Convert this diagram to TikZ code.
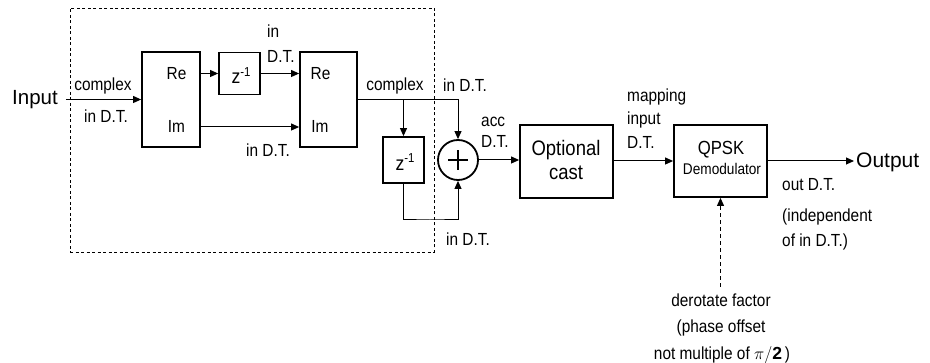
\documentclass[tikz,border=0pt]{standalone}
\usepackage{fontspec}
\setmainfont{Liberation Sans}
\newfontfamily\cnd[FakeStretch=0.88]{Liberation Sans}
\usetikzlibrary{arrows.meta}
\tikzset{
  blk/.style={draw, line width=1.8pt, inner sep=0pt},
  lbl/.style={font=\cnd\fontsize{17.5}{20}\selectfont, inner sep=0pt},
  big/.style={font=\fontsize{20.5}{24}\selectfont, inner sep=0pt},
  ln/.style={line width=1pt},
  arr/.style={line width=1pt, -{Triangle[length=8pt,width=7pt]}},
  grpbox/.style={draw, line width=0.8pt, dash pattern=on 3pt off 2.5pt, inner sep=0pt}
}
\newcommand{\zinv}{\cnd\fontsize{20}{22}\selectfont z\raisebox{7.5pt}{\fontsize{13}{14}\selectfont -1}}
\begin{document}
\begin{tikzpicture}[x=1pt,y=-1pt]
\useasboundingbox (0,0) rectangle (930,363);

% dashed group
\node[grpbox, minimum width=364pt, minimum height=244pt] (grp) at (252,130) {};

% blocks
\node[blk, minimum width=58pt, minimum height=95pt] (b1) at (171,99.5) {};
\node[blk, minimum width=57pt, minimum height=95pt] (b2) at (328.5,99.5) {};
\node[blk, minimum width=41pt, minimum height=42pt] (z1) at (239.5,73.5) {};
\node[blk, minimum width=41pt, minimum height=46pt] (z2) at (403.5,160) {};
\node[blk, circle, minimum size=40pt] (sum) at (458,160) {};
\node[blk, minimum width=93pt, minimum height=73pt] (opt) at (566.5,161.5) {};
\node[blk, minimum width=93pt, minimum height=72pt] (qpsk) at (720.5,161) {};

% block texts
\node[lbl, anchor=base] (re1) at (176.5,80) {Re};
\node[lbl, anchor=base] (im1) at (176.5,133) {Im};
\node[lbl, anchor=base] (re2) at (320.5,80) {Re};
\node[lbl, anchor=base] (im2) at (320,133) {Im};
\node[inner sep=0pt, anchor=base] (z1t) at (241,84) {\zinv};
\node[inner sep=0pt, anchor=base] (z2t) at (405,170.5) {\zinv};
\draw[line width=2.8pt] ([xshift=-10pt]sum.center) -- ([xshift=10pt]sum.center);
\draw[line width=2.8pt] ([yshift=-10pt]sum.center) -- ([yshift=10pt]sum.center);
\node[font=\cnd\fontsize{21}{24}\selectfont, inner sep=0pt, anchor=base] (optA) at (566,156) {Optional};
\node[font=\cnd\fontsize{21}{24}\selectfont, inner sep=0pt, anchor=base] (optB) at (566,180) {cast};
\node[font=\cnd\fontsize{19}{22}\selectfont, inner sep=0pt, anchor=base] (qA) at (721,155) {QPSK};
\node[font=\cnd\fontsize{15.5}{18}\selectfont, inner sep=0pt, anchor=base] (qB) at (722,175) {Demodulator};

% in/out terminals
\node[big, anchor=base west] (inp) at (12,105) {Input};
\node[big, anchor=base west, font=\fontsize{21}{24}\selectfont] (outp) at (856,168) {Output};

% labels
\node[lbl, anchor=base] (l1) at (103,91) {complex};
\node[lbl, anchor=base] (l2) at (106,123) {in D.T.};
\node[lbl, anchor=base west] (l3) at (267,38) {in};
\node[lbl, anchor=base west] (l4) at (267,63) {D.T.};
\node[lbl, anchor=base] (l5) at (268,157) {in D.T.};
\node[lbl, anchor=base] (l6) at (395,91) {complex};
\node[lbl, anchor=base] (l7) at (465,92) {in D.T.};
\node[lbl, anchor=base west] (l8) at (481,127) {acc};
\node[lbl, anchor=base west] (l9) at (481,148) {D.T.};
\node[lbl, anchor=base] (l10) at (468,246) {in D.T.};
\node[lbl, anchor=base west] (l11) at (627,102) {mapping};
\node[lbl, anchor=base west] (l12) at (627,125) {input};
\node[lbl, anchor=base west] (l13) at (627,149) {D.T.};
\node[lbl, anchor=base west] (l14) at (782,191) {out D.T.};
\node[lbl, anchor=base west] (l15) at (782,222) {(independent};
\node[lbl, anchor=base west] (l16) at (782,247) {of in D.T.)};
\node[lbl, anchor=base] (l17) at (721,307) {derotate factor};
\node[lbl, anchor=base] (l18) at (721,333) {(phase offset};
\node[lbl, anchor=base] (l19) at (722,360) {not multiple of $\pi/\mathbf{2}$\,)};

% helper coordinates
\coordinate (imy) at (250,127);
\coordinate (fb) at (430,220);
\coordinate (drt) at (720.5,287);

% connectors
\draw[arr, shorten <=8pt] (inp.east |- b1.west) -- (b1.west);
\draw[arr] (b1.east |- z1.center) -- (z1.west);
\draw[arr] (z1.east) -- (b2.west |- z1.center);
\draw[arr] (b1.east |- imy) -- (b2.west |- imy);
\draw[arr] (b2.east) -| (sum.north);
\draw[arr] (z2.north |- b2.east) -- (z2.north);
\draw[arr] (z2.south) |- (fb) -| (sum.south);
\draw[arr] (sum.east) -- (opt.west |- sum.east);
\draw[arr] (opt.east |- qpsk.east) -- (qpsk.west);
\draw[arr, shorten >=2pt] (qpsk.east) -- (qpsk.east -| outp.west);
\draw[line width=1pt, dash pattern=on 4pt off 3pt, -{Triangle[length=8pt,width=7pt]}] (drt) -- (qpsk.south);
\end{tikzpicture}
\end{document}
